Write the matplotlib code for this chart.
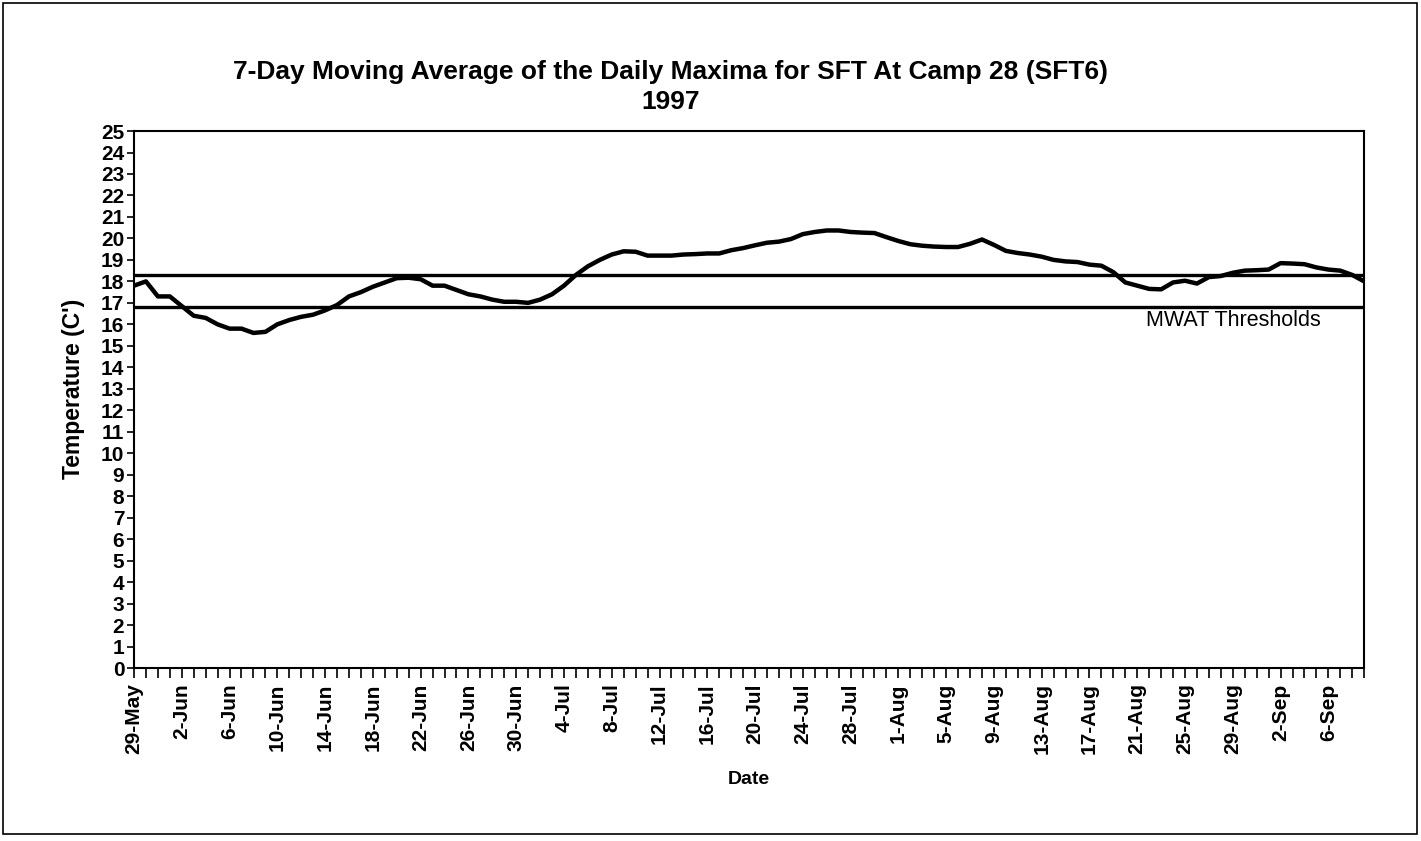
import matplotlib.pyplot as plt
import matplotlib.patches as mpatches
import numpy as np

plt.rcParams['font.family'] = ['Liberation Sans', 'DejaVu Sans']

# 7-day moving average of daily maxima, one value per day from 29-May to 9-Sep 1997
temps = [
    17.8, 18.0, 17.3, 17.3, 16.85, 16.4, 16.3, 16.0, 15.8, 15.8,
    15.6, 15.65, 16.0, 16.2, 16.35, 16.45, 16.65, 16.9, 17.3, 17.5,
    17.75, 17.95, 18.15, 18.17, 18.1, 17.8, 17.8, 17.6, 17.4, 17.3,
    17.15, 17.05, 17.05, 17.0, 17.15, 17.4, 17.8, 18.3, 18.7, 19.0,
    19.25, 19.4, 19.38, 19.2, 19.2, 19.2, 19.25, 19.27, 19.3, 19.3,
    19.45, 19.55, 19.68, 19.8, 19.85, 19.97, 20.2, 20.3, 20.37, 20.37,
    20.3, 20.27, 20.25, 20.06, 19.88, 19.73, 19.66, 19.62, 19.6, 19.6,
    19.75, 19.95, 19.7, 19.42, 19.32, 19.25, 19.15, 19.0, 18.93, 18.9,
    18.78, 18.73, 18.43, 17.95, 17.8, 17.65, 17.63, 17.95, 18.03, 17.9,
    18.2, 18.25, 18.4, 18.5, 18.52, 18.55, 18.85, 18.83, 18.8, 18.65,
    18.55, 18.5, 18.3, 18.0,
]
mwat_upper = 18.3
mwat_lower = 16.8

date_labels = ['29-May', '2-Jun', '6-Jun', '10-Jun', '14-Jun', '18-Jun', '22-Jun',
               '26-Jun', '30-Jun', '4-Jul', '8-Jul', '12-Jul', '16-Jul', '20-Jul',
               '24-Jul', '28-Jul', '1-Aug', '5-Aug', '9-Aug', '13-Aug', '17-Aug',
               '21-Aug', '25-Aug', '29-Aug', '2-Sep', '6-Sep']

days = np.arange(len(temps))

fig = plt.figure(figsize=(14.21, 8.41), dpi=100)
ax = fig.add_axes([0.0943, 0.2057, 0.8657, 0.6385])

# frame around the whole chart
fig.patches.append(mpatches.Rectangle((0.002, 0.008), 0.995, 0.988, transform=fig.transFigure,
                                      fill=False, edgecolor='black', linewidth=1.2))

ax.plot(days, temps, color='black', linewidth=3.2, solid_joinstyle='round', zorder=3)
ax.axhline(mwat_upper, color='black', linewidth=2.4, zorder=2)
ax.axhline(mwat_lower, color='black', linewidth=2.4, zorder=2)

ax.text(days[-1] - 3.6, mwat_lower - 0.62, 'MWAT Thresholds', ha='right', va='center',
        fontsize=15.5)

ax.set_xlim(0, len(temps) - 1)
ax.set_ylim(0, 25)
ax.set_yticks(range(0, 26))
ax.set_yticklabels([str(v) for v in range(0, 26)], fontsize=15, fontweight='bold')
ax.set_xticks(days, minor=True)
ax.set_xticks(days[::4])
ax.set_xticklabels(date_labels, rotation=90, fontsize=15, fontweight='bold')

ax.tick_params(axis='y', direction='out', length=5, width=1.2, pad=2)
ax.tick_params(axis='x', which='both', direction='out', length=7, width=1.2, pad=4)

for sp in ax.spines.values():
    sp.set_linewidth(1.5)

ax.set_xlabel('Date', fontsize=14, fontweight='bold', labelpad=12)
ax.set_ylabel("Temperature (C')", fontsize=16.5, fontweight='bold')
ax.yaxis.set_label_coords(-0.04, 0.52)

fig.text(0.4722, 0.914, '7-Day Moving Average of the Daily Maxima for SFT At Camp 28 (SFT6)',
         ha='center', va='center', fontsize=19, fontweight='bold')
fig.text(0.4722, 0.879, '1997', ha='center', va='center', fontsize=19, fontweight='bold')

plt.savefig('out.png', dpi=100)
